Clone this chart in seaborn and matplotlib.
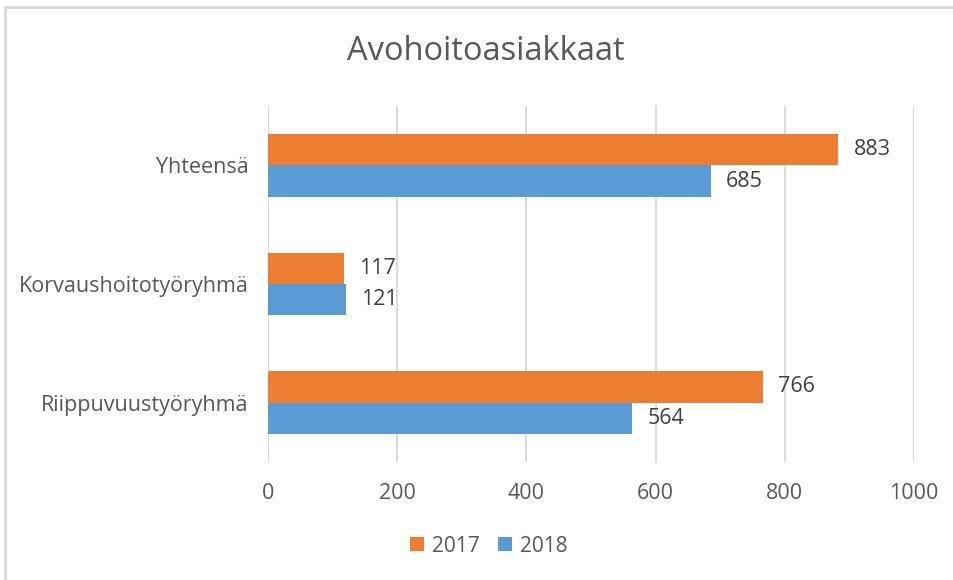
import matplotlib
matplotlib.use("Agg")
import matplotlib.pyplot as plt
import seaborn as sns
import pandas as pd
from matplotlib.patches import Rectangle

categories = ["Yhteensä", "Korvaushoitotyöryhmä", "Riippuvuustyöryhmä"]
years = ["2017", "2018"]
values_2017 = [883, 117, 766]
values_2018 = [685, 121, 564]
xticks = [0, 200, 400, 600, 800, 1000]
title = "Avohoitoasiakkaat"

df = pd.DataFrame({
    "kategoria": categories * 2,
    "vuosi": [years[0]] * 3 + [years[1]] * 3,
    "arvo": values_2017 + values_2018,
})

sns.set_theme(style="white")
plt.rcParams["font.family"] = ["Open Sans", "DejaVu Sans"]

FS = 15.5
fig = plt.figure(figsize=(9.54, 5.8), dpi=100)
ax = fig.add_axes([268 / 954, 1 - 462 / 580, (914 - 268) / 954, (462 - 106) / 580])

palette = {"2017": "#ED7D31", "2018": "#5B9BD5"}
sns.barplot(data=df, y="kategoria", x="arvo", hue="vuosi", order=categories,
            hue_order=years, palette=palette, orient="h", width=0.53,
            saturation=1, linewidth=0, ax=ax, legend=True)

for cont in ax.containers:
    ax.bar_label(cont, fmt="%d", padding=11, fontsize=FS, color="#404040")

ax.set_xlim(0, 1000)
ax.set_ylim(2.5, -0.5)
ax.set_xticks(xticks)
ax.set_xticklabels([str(t) for t in xticks])
ax.xaxis.grid(True, color="#d9d9d9", linewidth=1.3)
ax.set_axisbelow(True)
for s in ax.spines.values():
    s.set_visible(False)
ax.tick_params(axis="both", length=0, labelsize=FS, colors="#595959")
ax.tick_params(axis="y", pad=14)
ax.tick_params(axis="x", pad=15)
ax.set_xlabel("")
ax.set_ylabel("")

leg = ax.get_legend()
if leg is not None:
    leg.remove()
handles, labels = ax.get_legend_handles_labels()
fig.legend(handles[:2], labels[:2], loc="center", bbox_to_anchor=(489 / 954, 1 - 546 / 580),
           ncol=2, frameon=False, fontsize=15, handlelength=0.65, handleheight=0.65,
           columnspacing=0.9, handletextpad=0.4, labelcolor="#595959")

fig.text(486 / 954, 1 - 52 / 580, title, ha="center", va="center", fontsize=23.5, color="#595959")

fig.patches.append(Rectangle((5 / 954, -0.2), 1.2, 1.2 - 7 / 580, transform=fig.transFigure,
                             fill=False, edgecolor="#d9d9d9", linewidth=2))

fig.savefig("out.png", dpi=100)
